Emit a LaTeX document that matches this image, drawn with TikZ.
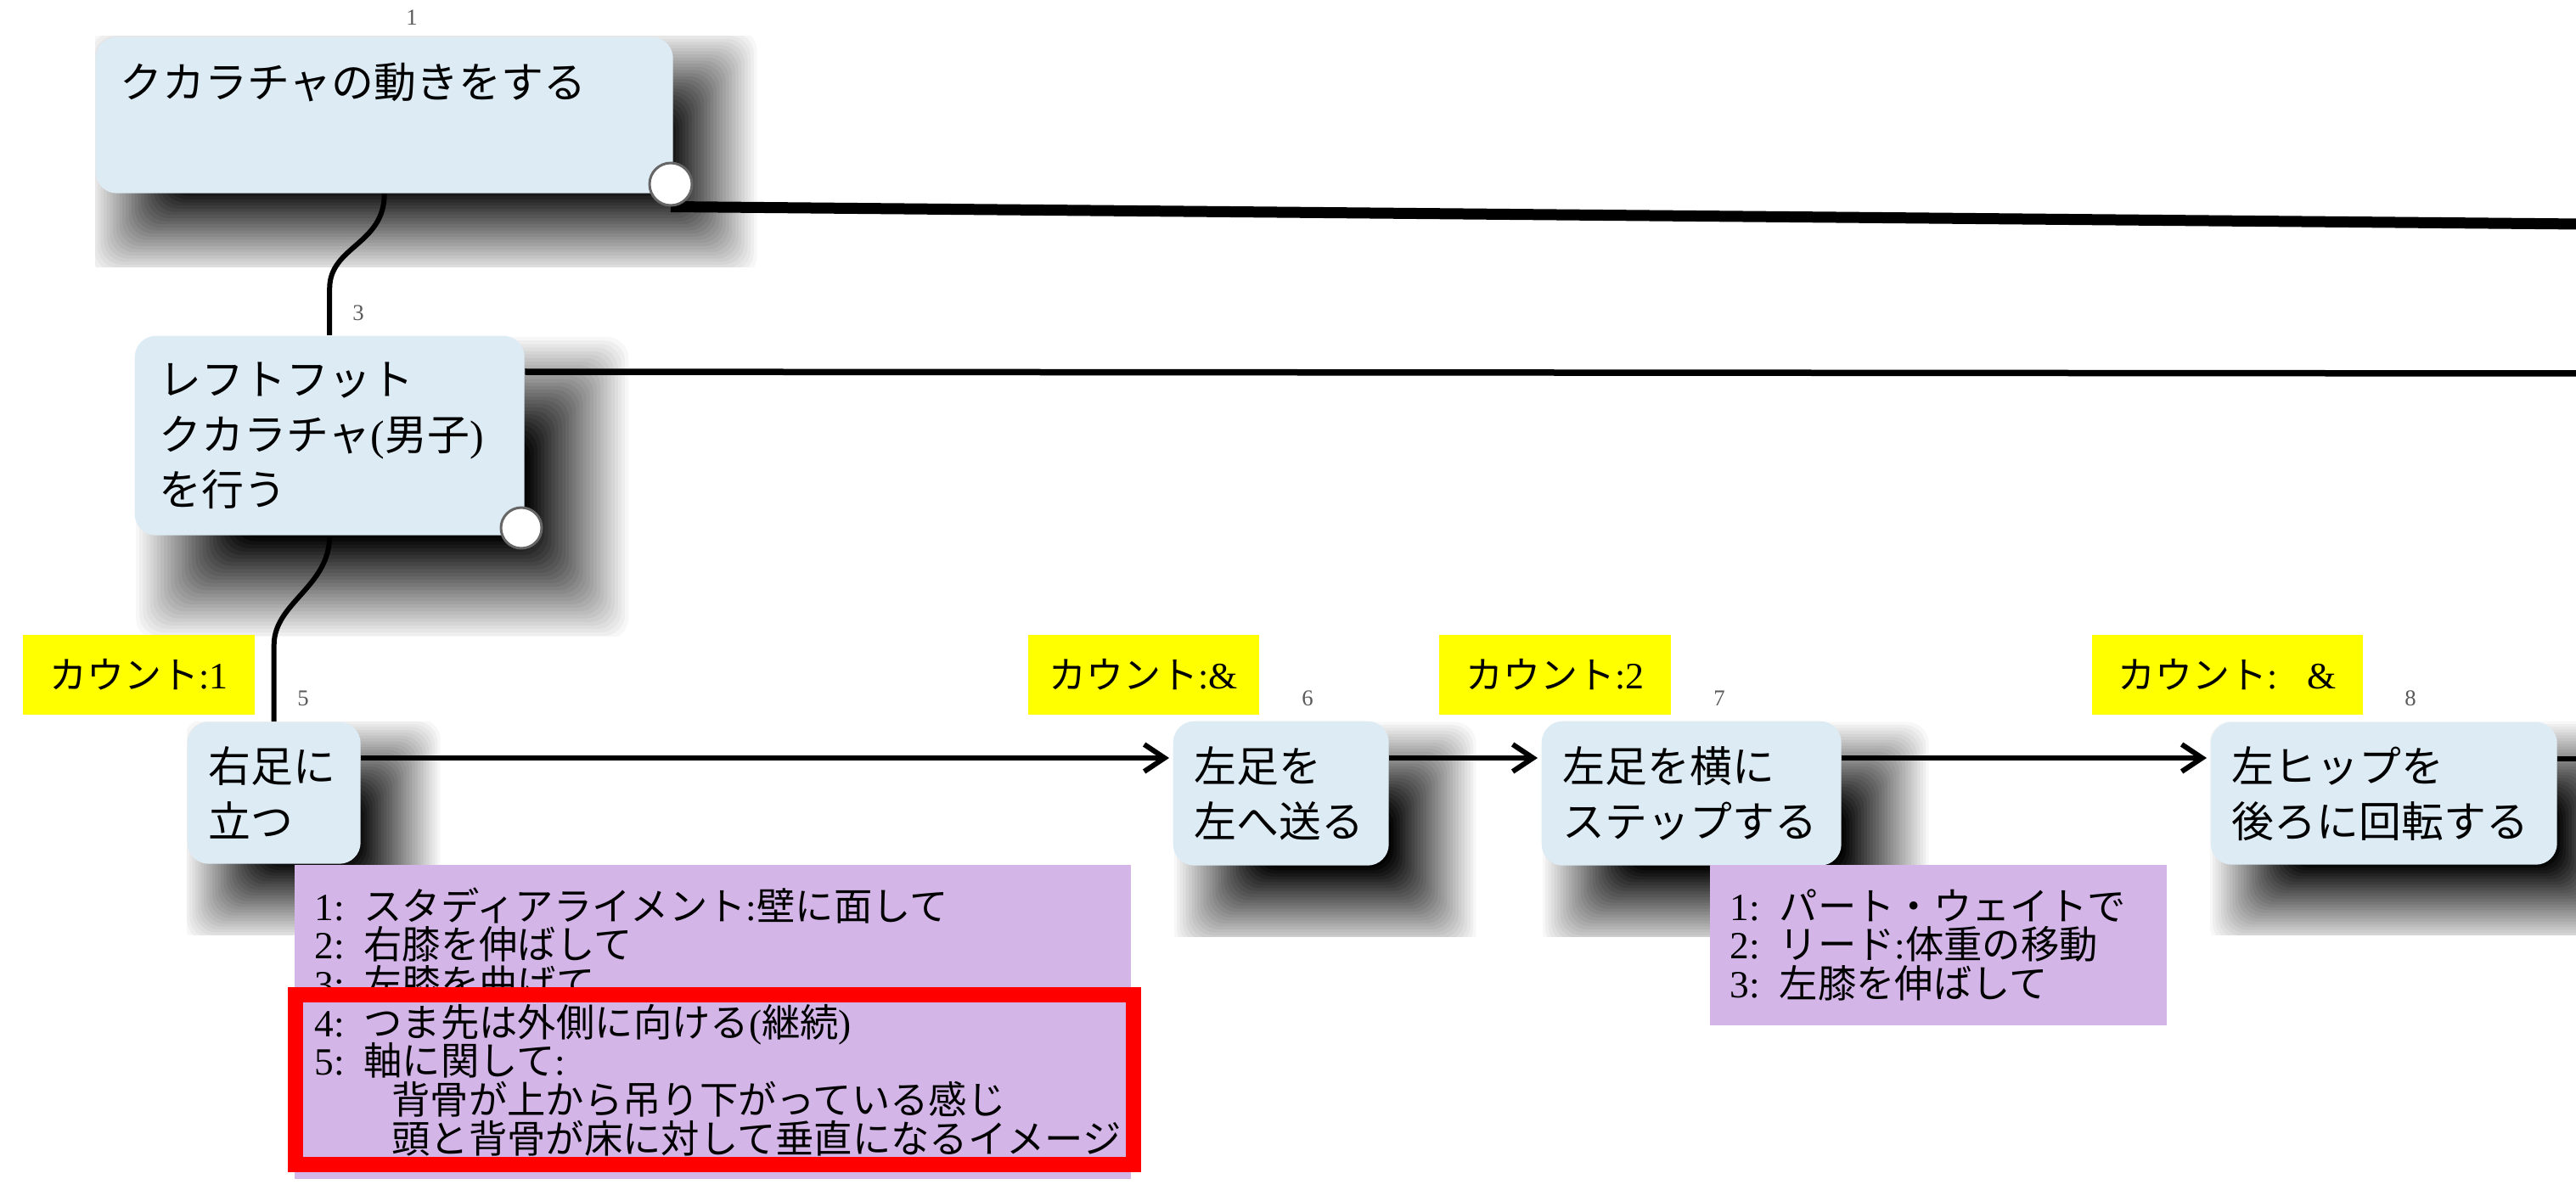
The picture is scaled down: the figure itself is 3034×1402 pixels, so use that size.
\documentclass[tikz,border=0pt]{standalone}
\usepackage{fontspec}
\setmainfont{Liberation Serif}
\newfontfamily\jp{Noto Sans CJK JP}
\usetikzlibrary{calc,arrows.meta}
\definecolor{boxblue}{RGB}{221,235,245}
\definecolor{notepurple}{RGB}{212,181,232}
\definecolor{countyellow}{RGB}{255,255,0}
\definecolor{markred}{RGB}{255,0,0}
\newcommand{\lt}[1]{{\rmfamily #1}}
\pgfdeclarelayer{shadow}
\pgfdeclarelayer{lines}
\pgfsetlayers{shadow,lines,main}
% soft shadow: node, offset, blur, right and bottom extent of the cut
\newcommand{\kshadow}[5]{
	\begin{scope}
		\clip (#1.north west) rectangle ($(#1.south east)+(#4,#5)$);
		\foreach \k in {1,...,30}{
			\pgfmathsetmacro\kin{#2-#3+(\k-0.5)*#3/15}
			\pgfmathsetmacro\kout{#2+#3-(\k-0.5)*#3/15}
			\pgfmathsetmacro\kop{1/(31-\k)}
			\fill[black, fill opacity=\kop, rounded corners=2.5mm] ($(#1.north west)+(\kin,\kin)$) rectangle ($(#1.south east)+(\kout,\kout)$);
		}
	\end{scope}
}
\tikzset{
	kbox/.style={fill=boxblue, rounded corners=2.5mm, anchor=north west, align=left, inner xsep=2.5mm, font=\jp\fontsize{14.2pt}{18.5pt}\selectfont},
	knote/.style={fill=notepurple, anchor=north west, align=left, inner xsep=2.4mm, font=\jp\fontsize{12.9pt}{13pt}\selectfont\lineskiplimit-20pt},
	kcount/.style={fill=countyellow, minimum height=9.4mm, inner sep=0pt, font=\jp\fontsize{12.5pt}{15pt}\selectfont},
	knum/.style={text=black!65, inner sep=0pt, font=\fontsize{7.6pt}{9pt}\selectfont},
	khandle/.style={circle, draw=black!60, line width=0.3mm, fill=white, minimum size=5mm, inner sep=0pt},
	kline/.style={line width=0.6mm},
	karrow/.style={line width=0.6mm, -{Straight Barb[length=2.4mm,width=3.2mm]}},
}

\begin{document}
\begin{tikzpicture}[x=0.1mm, y=-0.1mm]
	%%%%% FRAME %%%%%
	\useasboundingbox (0,0) rectangle (3034,1402);
	
	%%%%% BOXES %%%%%
	\node[kbox, text width=62.2mm, inner xsep=2.9mm, inner ysep=2.8mm, text height=4.4mm, text depth=8.4mm] (b1) at (112,43) {クカラチャの動きをする};
	\node[kbox, text width=40.1mm, inner xsep=2.9mm, minimum height=23.5mm] (b3) at (158,395) {レフトフット\\クカラチャ\lt{(}男子\lt{)}\\を行う};
	\node[kbox, text width=15.4mm, minimum height=16.7mm] (b5) at (220,850) {右足に\\立つ};
	\node[kbox, text width=20.4mm, minimum height=17mm] (b6) at (1381,849) {左足を\\左へ送る};
	\node[kbox, text width=30.3mm, minimum height=17mm] (b7) at (1815,849) {左足を横に\\ステップする};
	\node[kbox, text width=35.8mm, minimum height=16.8mm] (b8) at (2603,850) {左ヒップを\\後ろに回転する};
	
	\node[khandle] (c1) at (790,217) {};
	\node[khandle, minimum size=4.8mm] (c3) at (614,622) {};
	
	\node[knum] (n1) at (485,21) {1};
	\node[knum] (n3) at (422,369) {3};
	\node[knum] (n5) at (357,823) {5};
	\node[knum] (n6) at (1540,823) {6};
	\node[knum] (n7) at (2025,823) {7};
	\node[knum] (n8) at (2839,823) {8};
	
	%%%%% COUNTS %%%%%
	\node[kcount, minimum width=27.3mm] (k5) at (163.5,795) {カウント\lt{:1}};
	\node[kcount, minimum width=27.2mm] (k6) at (1347,794.5) {カウント\lt{:\&}};
	\node[kcount, minimum width=27.3mm] (k7) at (1831.5,794.5) {カウント\lt{:2}};
	\node[kcount, minimum width=31.9mm] (k8) at (2623.5,795) {カウント\lt{:\hspace{3.5mm}\&}};
	
	%%%%% NOTES %%%%%
	\node[knote, text width=93.7mm, minimum height=37mm] (m5) at (346,1018) {\lt{1: }スタディアライメント\lt{:}壁に面して\\
		\lt{2: }右膝を伸ばして\\
		\lt{3: }左膝を曲げて\\
		\lt{4: }つま先は外側に向ける\lt{(}継続\lt{)}\\
		\lt{5: }軸に関して\lt{:}\\
		\hspace*{2em}背骨が上から吊り下がっている感じ\\
		\hspace*{2em}頭と背骨が床に対して垂直になるイメージ};
	\node[knote, text width=49mm, minimum height=18.9mm] (m7) at (2013,1018) {\lt{1: }パート・ウェイトで\\
		\lt{2: }リード\lt{:}体重の移動\\
		\lt{3: }左膝を伸ばして};
	
	\draw[markred, line width=1.8mm] (347.5,1172) rectangle (1334.5,1372);
	
	%%%%% CONNECTORS %%%%%
	\coordinate (e1) at (3040,264);
	\coordinate (e3) at (3040,440);
	\coordinate (e8) at (3040,894);
	\begin{pgfonlayer}{lines}
		\draw[line width=1.3mm] (c1.south) -- (e1);
		\draw[line width=0.75mm] ($(b3.north east)+(0,43)$) -- (e3);
		\draw[kline] (b1.south) .. controls +(0,60) and +(0,-50) .. ($(b3.north)+(0,-55)$) -- (b3.north);
		\draw[kline] (b3.south) .. controls +(0,60) and +(0,-50) .. ($(b5.north)+(0,-90)$) -- (b5.north);
		\draw[karrow] ($(b5.north east)+(0,43)$) -- ($(b6.north west)+(-4,44)$);
		\draw[karrow] ($(b6.north east)+(0,44)$) -- ($(b7.north west)+(-4,44)$);
		\draw[karrow] ($(b7.north east)+(0,44)$) -- ($(b8.north west)+(-4,43)$);
		\draw[kline] ($(b8.north east)+(0,44)$) -- (e8);
	\end{pgfonlayer}
	
	%%%%% SHADOWS %%%%%
	\begin{pgfonlayer}{shadow}
		\kshadow{b1}{45}{55}{108}{86}
		\kshadow{b3}{62}{62}{146}{118}
		\kshadow{b5}{45}{50}{102}{83}
		\kshadow{b6}{52}{52}{124}{83}
		\kshadow{b7}{52}{52}{124}{83}
		\kshadow{b8}{48}{50}{200}{82}
	\end{pgfonlayer}
\end{tikzpicture}
\end{document}
